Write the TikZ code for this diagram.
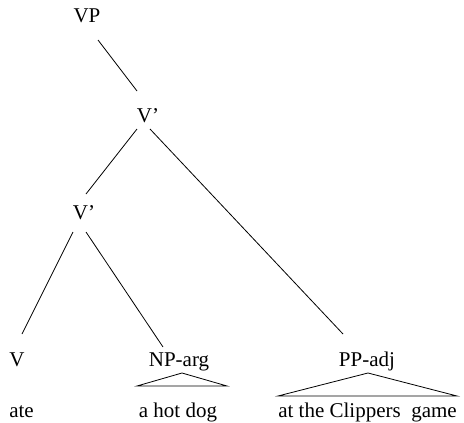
\documentclass[tikz,border=0pt]{standalone}
\usepackage{fontspec}
\setmainfont{Liberation Serif}
\begin{document}
\begin{tikzpicture}[x=1pt,y=-1pt,
  lbl/.style={anchor=base,inner sep=0pt,font=\fontsize{21}{25}\selectfont},
  edge/.style={line width=0.8pt}]
\useasboundingbox (0,0) rectangle (464,423);
\node[lbl] (VP) at (87,23) {VP};
\node[lbl] (V1) at (148,122) {V’};
\node[lbl] (V2) at (84,219) {V’};
\node[lbl] (V) at (17,366) {V};
\node[lbl] (NP) at (179,366) {NP-arg};
\node[lbl] (PP) at (367,366) {PP-adj};
\node[lbl] (ate) at (21.5,417) {ate};
\node[lbl] (dog) at (178,417) {a hot dog};
\node[lbl] (game) at (367.5,417) {at the Clippers\ \ game};
\draw[edge] ([shift={(11,17)}]VP.base) -- ([shift={(-11,-31)}]V1.base);
\draw[edge] ([shift={(-11,7)}]V1.base) -- ([shift={(2,-25)}]V2.base);
\draw[edge] ([shift={(2,7)}]V1.base) -- ([shift={(-24,-32)}]PP.base);
\draw[edge] ([shift={(-11,13)}]V2.base) -- ([shift={(5,-32)}]V.base);
\draw[edge] ([shift={(2,13)}]V2.base) -- ([shift={(-16,-19)}]NP.base);
\draw[edge] ([shift={(3,7)}]NP.base) -- ([shift={(-42,20)}]NP.base) -- ([shift={(48,20)}]NP.base) -- cycle;
\draw[edge] ([shift={(1,7)}]PP.base) -- ([shift={(-89,30)}]PP.base) -- ([shift={(90,30)}]PP.base) -- cycle;
\end{tikzpicture}
\end{document}
